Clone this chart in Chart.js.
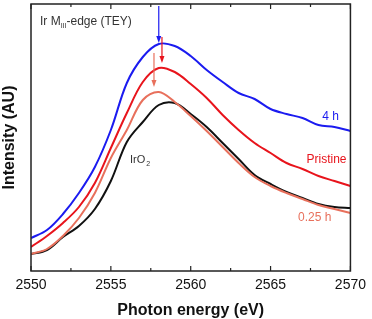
<!DOCTYPE html>
<html>
<head>
<meta charset="utf-8">
<script src="https://cdn.jsdelivr.net/npm/chart.js@4.4.1/dist/chart.umd.min.js"></script>
<style>
  html, body { margin:0; padding:0; background:#fff; }
  #wrap { width:372px; height:319px; }
</style>
</head>
<body>
<div id="wrap"><canvas id="chart"></canvas></div>
<script>
// Ir M_III-edge XAS (TEY), intensita' in unita' arbitrarie
const energy = [2550,2551,2552,2553,2554,2555,2556,2557,2558,2559,2560,2561,2562,2563,2564,2565,2566,2567,2568,2569,2570];
const h4       = [33,41,57,78,104,141,188,214,227,225,215,201,189,178,172,162,157,153,146,144,140];
const pristine = [24,35,48,64,88,123,158,189,203,199,187,173,156,141,128,118,108,102,95,90,85];
const h025     = [17,22,35,53,78,113,141,171,179,169,155,140,124,108,94,85,78,72,66,62,58];
const iro2     = [17,21,34,45,62,90,129,149,166,168,157,144,128,112,96,87,79,73,67,64,63];

const seriesNames  = ["4 h", "Pristine", "0.25 h", "IrO2"];
const seriesColors = ["#1b1bf0", "#e8141c", "#e8705c", "#111111"];

// frecce sui massimi: posizione in eV, da / a in intensita'
const arrowE    = [2558.0, 2558.2, 2557.7];
const arrowFrom = [265, 234, 218];
const arrowTo   = [228, 208, 184];

// etichette delle curve (eV, intensita')
const labelE = [2568.76, 2568.5, 2567.76, 2556.2];
const labelI = [154, 111, 53, 111];

const xTickStep = 2.5;
const FONT = "'Liberation Sans', Arial, sans-serif";

const makeSet = (data, i) => ({
  label: seriesNames[i],
  data: energy.map((e, k) => ({ x: e, y: data[k] })),
  borderColor: seriesColors[i],
  borderWidth: 2,
  pointRadius: 0,
  tension: 0.35,
  fill: false
});

const decor = {
  id: "decor",
  afterDatasetsDraw(chart){
    const { ctx, chartArea: a, scales: { x, y } } = chart;
    ctx.save();
    // cornice
    ctx.strokeStyle = "#222";
    ctx.lineWidth = 1.5;
    ctx.strokeRect(a.left, a.top, a.right - a.left, a.bottom - a.top);
    // tacche interne sopra e sotto
    ctx.lineWidth = 1.2;
    x.ticks.forEach(t => {
      const px = x.getPixelForValue(t.value);
      const len = (t.value % 5 === 0) ? 5 : 3;
      ctx.beginPath();
      ctx.moveTo(px, a.bottom); ctx.lineTo(px, a.bottom - len);
      ctx.moveTo(px, a.top);    ctx.lineTo(px, a.top + len);
      ctx.stroke();
    });
    // frecce
    arrowE.forEach((e, i) => {
      const px = x.getPixelForValue(e);
      const y0 = y.getPixelForValue(arrowFrom[i]);
      const y1 = y.getPixelForValue(arrowTo[i]);
      ctx.strokeStyle = seriesColors[i];
      ctx.fillStyle = seriesColors[i];
      ctx.lineWidth = 1.2;
      ctx.beginPath(); ctx.moveTo(px, y0); ctx.lineTo(px, y1 - 5); ctx.stroke();
      ctx.beginPath();
      ctx.moveTo(px, y1); ctx.lineTo(px - 2.5, y1 - 7); ctx.lineTo(px + 2.5, y1 - 7);
      ctx.closePath(); ctx.fill();
    });
    // titolo interno
    ctx.fillStyle = "#333";
    ctx.textBaseline = "alphabetic";
    ctx.textAlign = "left";
    ctx.font = "12px " + FONT;
    let tx = a.left + 9, ty = a.top + 21;
    ctx.fillText("Ir M", tx, ty); tx += ctx.measureText("Ir M").width;
    ctx.font = "7px " + FONT;
    ctx.fillText("III", tx, ty + 3); tx += ctx.measureText("III").width;
    ctx.font = "12px " + FONT;
    ctx.fillText("-edge (TEY)", tx, ty);
    // etichette curve
    ctx.textBaseline = "middle";
    for (let i = 0; i < 3; i++){
      ctx.fillStyle = seriesColors[i];
      ctx.textAlign = "center";
      ctx.font = "12px " + FONT;
      ctx.fillText(seriesNames[i], x.getPixelForValue(labelE[i]), y.getPixelForValue(labelI[i]));
    }
    ctx.fillStyle = "#333";
    ctx.textAlign = "left";
    ctx.font = "11px " + FONT;
    const ix = x.getPixelForValue(labelE[3]), iy = y.getPixelForValue(labelI[3]);
    ctx.fillText("IrO", ix, iy);
    const w = ctx.measureText("IrO").width;
    ctx.font = "7px " + FONT;
    ctx.fillText("2", ix + w + 1, iy + 4);
    ctx.restore();
  }
};

new Chart(document.getElementById("chart").getContext("2d"), {
  type: "line",
  data: { datasets: [makeSet(h4,0), makeSet(pristine,1), makeSet(h025,2), makeSet(iro2,3)] },
  options: {
    responsive: true,
    maintainAspectRatio: false,
    animation: false,
    layout: { padding: { top: 4, right: 19, left: 0, bottom: 0 } },
    plugins: { legend: { display: false }, tooltip: { enabled: false } },
    scales: {
      x: {
        type: "linear", min: 2550, max: 2570,
        afterFit: s => { s.height = 48; },
        grid: { display: false, drawTicks: false },
        border: { display: false },
        ticks: {
          stepSize: xTickStep, padding: 6, maxRotation: 0, autoSkip: false,
          color: "#111", font: { family: FONT, size: 14 },
          callback: v => (v % 5 === 0) ? String(v) : ""
        },
        title: { display: true, text: "Photon energy (eV)", color: "#111",
                 font: { family: FONT, size: 16, weight: "bold", lineHeight: 1 },
                 padding: { top: 0, bottom: 0 } }
      },
      y: {
        min: 0, max: 267,
        afterFit: s => { s.width = 31; },
        grid: { display: false, drawTicks: false },
        border: { display: false },
        ticks: { display: false },
        title: { display: true, text: "Intensity (AU)", color: "#111",
                 font: { family: FONT, size: 16, weight: "bold", lineHeight: 1 },
                 padding: { top: 2, bottom: 0 } }
      }
    }
  },
  plugins: [decor]
});
</script>
</body>
</html>
